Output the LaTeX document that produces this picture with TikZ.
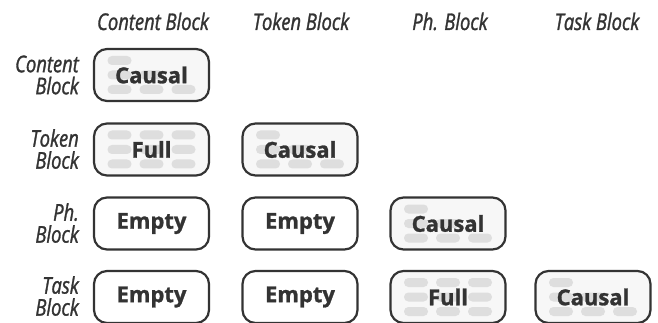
\documentclass[tikz,border=0pt]{standalone}
\usepackage{fontspec}
\setmainfont{Open Sans}
\newfontfamily\hdrfont[FakeStretch=0.8, FakeBold=1.3]{Open Sans}
\newfontfamily\lblfont[FakeBold=1.2]{Open Sans Bold}
\definecolor{ink}{HTML}{333333}
\definecolor{pillc}{HTML}{DEDEDE}
\definecolor{boxfill}{HTML}{F7F7F7}
\begin{document}
\begin{tikzpicture}[x=1pt,y=-1pt,
  cellbox/.style={draw=ink, line width=2.2pt, rounded corners=13pt, minimum width=115pt, minimum height=52pt, inner sep=0pt},
  filledbox/.style={cellbox, fill=boxfill},
  emptybox/.style={cellbox, fill=white},
  pillnode/.style={fill=pillc, rounded corners=4.4pt, minimum width=24pt, minimum height=9pt, inner sep=0pt, draw=none},
  lbl/.style={font=\lblfont\fontsize{22}{24}\selectfont, text=ink, inner sep=0pt},
  hdr/.style={font=\hdrfont\itshape\fontsize{23}{22}\selectfont, text=ink, inner sep=0pt},
  rowhdr/.style={hdr, align=right, anchor=east}
]
\useasboundingbox (0,0) rectangle (658,323);
% headers
\node[hdr, anchor=base] (h1) at (153,30) {Content Block};
\node[hdr, anchor=base] (h2) at (301,30) {Token Block};
\node[hdr, anchor=base] (h3) at (450,30) {Ph. Block};
\node[hdr, anchor=base] (h4) at (597,30) {Task Block};
\node[rowhdr] (r1) at (79,75) {Content\\Block};
\node[rowhdr] (r2) at (79,149) {Token\\Block};
\node[rowhdr] (r3) at (79,223) {Ph.\\Block};
\node[rowhdr] (r4) at (79,296) {Task\\Block};
% boxes
\node[filledbox] (c11) at (151.5,75) {};
\node[filledbox] (c21) at (151.5,149.5) {};
\node[filledbox] (c22) at (300,149.5) {};
\node[emptybox] (c31) at (151.5,223.5) {};
\node[emptybox] (c32) at (300,223.5) {};
\node[filledbox] (c33) at (448,223.5) {};
\node[emptybox] (c41) at (151.5,297) {};
\node[emptybox] (c42) at (300,297) {};
\node[filledbox] (c43) at (448,297) {};
\node[filledbox] (c44) at (593,297) {};
% causal pills
\foreach \c in {c11,c22,c33,c44}{
  \foreach \i in {1,2,3}{
    \foreach \j in {1,...,\i}{
      \node[pillnode] (\c p\i\j) at ([shift={({(\j-2)*32},{(\i-2)*14.5})}]\c.center) {};
    }
  }
}
% full pills
\foreach \c in {c21,c43}{
  \foreach \i in {1,2,3}{
    \foreach \j in {1,2,3}{
      \node[pillnode] (\c p\i\j) at ([shift={({(\j-2)*32},{(\i-2)*14.5})}]\c.center) {};
    }
  }
}
% labels
\node[lbl] (t11) at (c11) {Causal};
\node[lbl] (t21) at (c21) {Full};
\node[lbl] (t22) at (c22) {Causal};
\node[lbl] (t31) at (c31) {Empty};
\node[lbl] (t32) at (c32) {Empty};
\node[lbl] (t33) at (c33) {Causal};
\node[lbl] (t41) at (c41) {Empty};
\node[lbl] (t42) at (c42) {Empty};
\node[lbl] (t43) at (c43) {Full};
\node[lbl] (t44) at (c44) {Causal};
\end{tikzpicture}
\end{document}
